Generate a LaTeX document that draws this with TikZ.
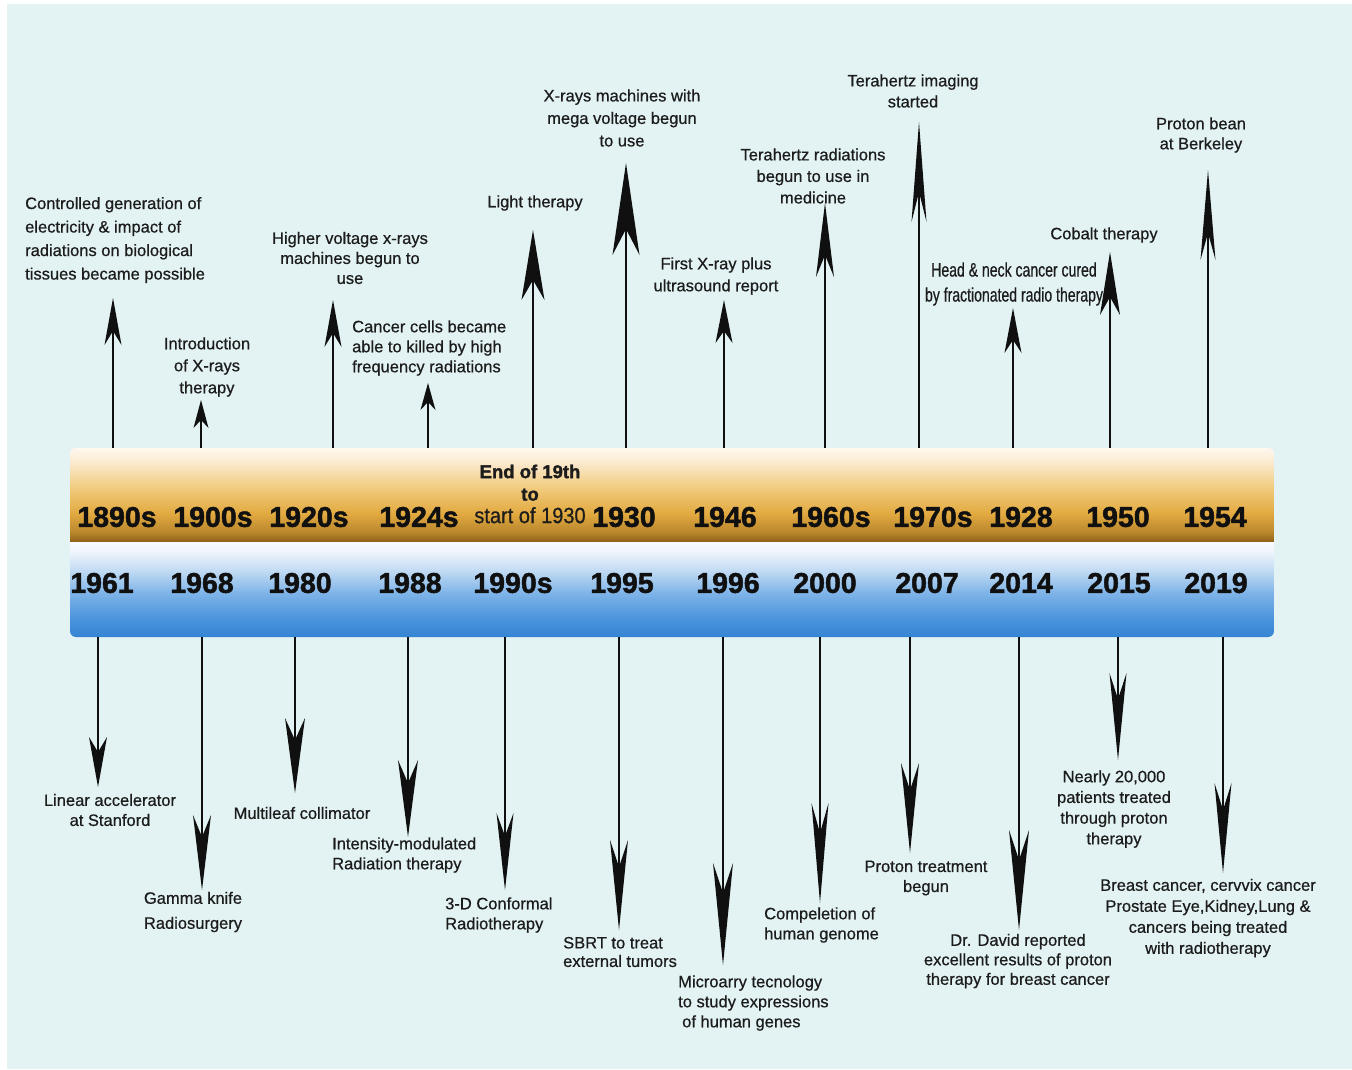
\documentclass[tikz,border=0pt]{standalone}
\usepackage{fontspec}
\usepackage{graphicx}
\setmainfont{Liberation Sans}
\newfontfamily\labfont[FakeBold=0.6]{Liberation Sans}
\newfontfamily\yrfont[FakeBold=1.6]{Liberation Sans Bold}
\usetikzlibrary{arrows.meta}
\definecolor{bg}{HTML}{E3F2F3}
\definecolor{txt}{HTML}{1C1C1C}
\definecolor{ink}{HTML}{101010}
\definecolor{ob1}{HTML}{8E6018}
\definecolor{ob2}{HTML}{B8862C}
\definecolor{ob3}{HTML}{E2A93F}
\definecolor{ob4}{HTML}{F2CE84}
\definecolor{ob5}{HTML}{FBEBD2}
\definecolor{ob6}{HTML}{FFF8EE}
\definecolor{bb1}{HTML}{3584D3}
\definecolor{bb2}{HTML}{4C95DD}
\definecolor{bb3}{HTML}{7DB3E8}
\definecolor{bb4}{HTML}{C2DBF3}
\definecolor{bb5}{HTML}{EEF5FB}
\definecolor{bb6}{HTML}{F8FBFE}
\pgfdeclareverticalshading{orng}{100bp}{color(0bp)=(ob1); color(25bp)=(ob1); color(30bp)=(ob2); color(40bp)=(ob3); color(55bp)=(ob4); color(68bp)=(ob5); color(75bp)=(ob6); color(100bp)=(ob6)}
\pgfdeclareverticalshading{blu}{100bp}{color(0bp)=(bb1); color(25bp)=(bb1); color(35bp)=(bb2); color(48bp)=(bb3); color(60bp)=(bb4); color(70bp)=(bb5); color(75bp)=(bb6); color(100bp)=(bb6)}
\tikzset{
  arr/.style n args={3}{line width=2.8pt, draw=ink,
    -{Stealth[length=#1pt,width=#2pt,inset=#3pt,line width=0pt]}},
  lab/.style={font=\labfont\fontsize{16.5}{21}\selectfont, align=center, inner sep=0pt, text=txt},
  yr/.style={font=\yrfont\fontsize{28.5}{30}\selectfont, inner sep=0pt, text=ink},
  barnode/.style={minimum width=1204pt, inner sep=0pt, outer sep=0pt}
}
\begin{document}
\begin{tikzpicture}[x=1pt,y=-1pt]
\useasboundingbox (0,0) rectangle (1352,1069);
\fill[white] (0,0) rectangle (1352,1069);
\fill[bg] (7,4) rectangle (1352,1069);
% bars
\begin{scope}
\clip[rounded corners=6pt] (70,448) rectangle (1274,637);
\shade[shading=orng] (70,448) rectangle (1274,542);
\shade[shading=blu] (70,542) rectangle (1274,637);
\end{scope}
\node[barnode, minimum height=94pt] (obar) at (672,495) {};
\node[barnode, minimum height=95pt] (bbar) at (672,589.5) {};
% years top
\foreach \n/\x/\t in {1/117/1890s,2/213/1900s,3/309/1920s,4/419/1924s,5/624/1930,6/725/1946,7/831/1960s,8/933/1970s,9/1021/1928,10/1118/1950,11/1215/1954}
  \node[yr] (t\n) at (\x,517) {\t};
\node[inner sep=0pt, text=txt, align=center, font=\labfont\fontsize{19.3}{22.5}\selectfont] (t0) at (530,494)
  {{\yrfont\fontsize{18.5}{22.5}\selectfont End of 19th}\\{\yrfont\fontsize{18.5}{22.5}\selectfont to}\\\scalebox{0.91}[1]{\fontsize{22}{22.5}\selectfont start of 1930}};
% years bottom
\foreach \n/\x/\t in {1/102/1961,2/202/1968,3/300/1980,4/410/1988,5/513/1990s,6/622/1995,7/728/1996,8/825/2000,9/927/2007,10/1021/2014,11/1119/2015,12/1216/2019}
  \node[yr] (b\n) at (\x,583) {\t};
% up arrows
\foreach \n/\x/\y/\L/\W/\I in {1/113/298/47/17/14,2/201/400/28/15/8,3/333/300/47/17/14,4/428/383/27/15/8,5/533/230/70/23/20,6/626/163/92/27/26,7/724/300/43/17/12,8/825/203/74/18/22,9/919/122/100/15/30,10/1013/308/45/17/13,11/1110/252/63/20/18,12/1208/170/90/15/27}{
  \coordinate (u\n) at (\x,\y);
  \draw[arr={\L}{\W}{\I}] (u\n |- obar.north) -- (u\n);
}
% down arrows
\foreach \n/\x/\y/\L/\W/\I in {1/98/787/50/18/15,2/202/890/75/18/22,3/295/793/75/20/22,4/408/837/77/20/23,5/505/890/77/17/23,6/619/930/90/18/27,7/723/965/102/20/30,8/820/903/100/17/30,9/910/853/90/18/27,10/1019/930/100/20/30,11/1118/760/87/17/26,12/1223/873/90/17/27}{
  \coordinate (d\n) at (\x,\y);
  \draw[arr={\L}{\W}{\I}] (d\n |- bbar.south) -- (d\n);
}
% upper labels
\node[lab, align=left, anchor=west, font=\labfont\fontsize{16.5}{23.5}\selectfont] (lu1) at (25,240)
  {Controlled generation of\\electricity \& impact of\\radiations on biological\\tissues became possible};
\node[lab, font=\labfont\fontsize{16.5}{22}\selectfont] (lu2) at (207,367) {Introduction\\of X-rays\\therapy};
\node[lab, font=\labfont\fontsize{16.5}{20}\selectfont] (lu3) at (350,258) {Higher voltage x-rays\\machines begun to\\use};
\node[lab, align=left, anchor=west, font=\labfont\fontsize{16.5}{20}\selectfont] (lu4) at (352,348) {Cancer cells became\\able to killed by high\\frequency radiations};
\node[lab] (lu5) at (535,203) {Light therapy};
\node[lab, font=\labfont\fontsize{16.5}{22.5}\selectfont] (lu6) at (622,118) {X-rays machines with\\mega voltage begun\\to use};
\node[lab, font=\labfont\fontsize{16.5}{22}\selectfont] (lu7) at (716,276) {First X-ray plus\\ultrasound report};
\node[lab, font=\labfont\fontsize{16.5}{21.5}\selectfont] (lu8) at (813,176) {Terahertz radiations\\begun to use in\\medicine};
\node[lab] (lu9) at (913,91) {Terahertz imaging\\started};
\node[lab, font=\labfont\fontsize{19.5}{25}\selectfont] (lu10) at (1014,284)
  {\scalebox{0.72}[1]{Head \& neck cancer cured}\\\scalebox{0.72}[1]{by fractionated radio therapy}};
\node[lab] (lu11) at (1104,235) {Cobalt therapy};
\node[lab, font=\labfont\fontsize{16.5}{20}\selectfont] (lu12) at (1201,135) {Proton bean\\at Berkeley};
% lower labels
\node[lab, font=\labfont\fontsize{16.5}{20}\selectfont] (ld1) at (110,810) {Linear accelerator\\at Stanford};
\node[lab, font=\labfont\fontsize{16.5}{25}\selectfont] (ld2) at (193,912) {Gamma knife\\Radiosurgery};
\node[lab] (ld3) at (302,813) {Multileaf collimator};
\node[lab, align=left, anchor=west, font=\labfont\fontsize{16.5}{20}\selectfont] (ld4) at (332,855) {Intensity-modulated\\Radiation therapy};
\node[lab, align=left, anchor=west, font=\labfont\fontsize{16.5}{20}\selectfont] (ld5) at (445,915) {3-D Conformal\\Radiotherapy};
\node[lab, align=left, anchor=west, font=\labfont\fontsize{16.5}{18.5}\selectfont] (ld6) at (563,952) {SBRT to treat\\external tumors};
\node[lab, align=left, anchor=west, font=\labfont\fontsize{16.5}{20}\selectfont] (ld7) at (678,1003) {Microarry tecnology\\to study expressions\\\hspace*{4pt}of human genes};
\node[lab, align=left, anchor=west, font=\labfont\fontsize{16.5}{20}\selectfont] (ld8) at (764,925) {Compeletion of\\human genome};
\node[lab, font=\labfont\fontsize{16.5}{20}\selectfont] (ld9) at (926,878) {Proton treatment\\begun};
\node[lab, font=\labfont\fontsize{16.5}{19.5}\selectfont] (ld10) at (1018,961) {Dr. David reported\\excellent results of proton\\therapy for breast cancer};
\node[lab, font=\labfont\fontsize{16.5}{20.7}\selectfont] (ld11) at (1114,809) {Nearly 20,000\\patients treated\\through proton\\therapy};
\node[lab, font=\labfont\fontsize{16.5}{21}\selectfont] (ld12) at (1208,918) {Breast cancer, cervvix cancer\\Prostate Eye,Kidney,Lung \&\\cancers being treated\\with radiotherapy};
\end{tikzpicture}
\end{document}
